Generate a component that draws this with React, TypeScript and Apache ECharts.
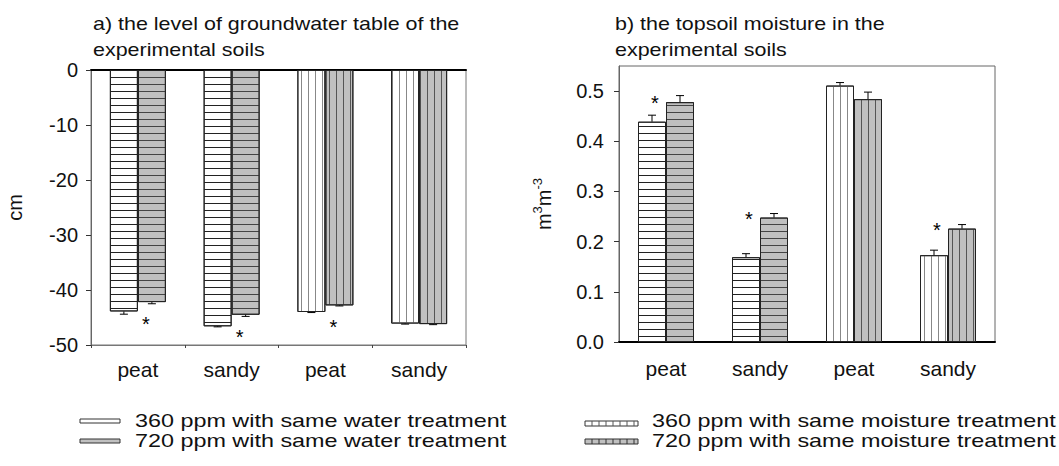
import React, { useEffect, useRef } from "react";
import * as echarts from "echarts";

// ---------- data ----------
const categories = ["peat", "sandy", "peat", "sandy"];
const patternKinds = ["h", "h", "v", "v"];

const groundwater360 = [-43.9, -46.6, -44.0, -46.1];
const groundwater720 = [-42.2, -44.5, -42.8, -46.2];
const groundwater360Err = [0.5, 0.1, 0.1, 0.1];
const groundwater720Err = [0.3, 0.3, 0.1, 0.1];
const groundwaterStars = [true, true, true, false];
const groundwaterTicks = [0, -10, -20, -30, -40, -50];

const moisture360 = [0.439, 0.169, 0.511, 0.173];
const moisture720 = [0.478, 0.248, 0.484, 0.226];
const moisture360Err = [0.013, 0.007, 0.006, 0.01];
const moisture720Err = [0.013, 0.008, 0.014, 0.008];
const moistureStars = [true, true, false, true];
const moistureTicks = [0, 0.1, 0.2, 0.3, 0.4, 0.5];

const titleA = ["a) the level of groundwater table of the", "experimental soils"];
const titleB = ["b) the topsoil moisture in the", "experimental soils"];
const legendA = ["360 ppm with same water treatment", "720 ppm with same water treatment"];
const legendB = ["360 ppm with same moisture treatment", "720 ppm with same moisture treatment"];

// ---------- styles ----------
const FONT = "'Liberation Sans', Arial, Helvetica, sans-serif";
const GREY = "#c0c0c0";
const TEXT = "#111";

function decalFor(kind: string, color: string) {
  return kind === "h"
    ? { symbol: "rect", symbolSize: 1, color, dashArrayX: [7, 0], dashArrayY: [1, 6], rotation: 0 }
    : { symbol: "rect", symbolSize: 1, color, dashArrayX: [1, 6], dashArrayY: [7, 0], rotation: 0 };
}

function barSeries(name: string, values: number[], xi: number, yi: number, fill: string, hColor: string, vColor: string) {
  return {
    type: "bar",
    name,
    xAxisIndex: xi,
    yAxisIndex: yi,
    barWidth: 28,
    barGap: "0%",
    silent: true,
    data: values.map((v, i) => ({
      value: v,
      itemStyle: {
        color: fill,
        borderColor: "#222",
        borderWidth: 1,
        decal: decalFor(patternKinds[i], patternKinds[i] === "h" ? hColor : vColor),
      },
    })),
  };
}

function errorSeries(xi: number, yi: number, values: number[], errs: number[], offset: number, dir: number) {
  return {
    type: "custom",
    xAxisIndex: xi,
    yAxisIndex: yi,
    z: 5,
    silent: true,
    data: values.map((v, i) => [i, v, errs[i]]),
    renderItem: (_p: any, api: any) => {
      const i = api.value(0);
      const v = api.value(1);
      const e = api.value(2);
      const p0 = api.coord([i, v]);
      const p1 = api.coord([i, v + dir * e]);
      const x = p0[0] + offset;
      return {
        type: "group",
        children: [
          { type: "line", shape: { x1: x, y1: p0[1], x2: x, y2: p1[1] }, style: { stroke: "#000", lineWidth: 1 } },
          { type: "line", shape: { x1: x - 4, y1: p1[1], x2: x + 4, y2: p1[1] }, style: { stroke: "#000", lineWidth: 1 } },
        ],
      };
    },
  };
}

function starSeries(xi: number, yi: number, values: number[], flags: boolean[], dx: number, dy: number) {
  return {
    type: "custom",
    xAxisIndex: xi,
    yAxisIndex: yi,
    z: 6,
    silent: true,
    data: values.map((v, i) => [i, v]).filter((_d, i) => flags[i]),
    renderItem: (_p: any, api: any) => {
      const p = api.coord([api.value(0), api.value(1)]);
      return {
        type: "text",
        x: p[0] + dx,
        y: p[1] + dy,
        style: { text: "*", fontSize: 20, fontFamily: FONT, fill: "#000", align: "center", verticalAlign: "middle" },
      };
    },
  };
}

function legendSwatchLines(x: number, y: number, w: number, h: number, color: string) {
  const out: any[] = [];
  for (let lx = x + 7; lx < x + w - 1; lx += 7) {
    out.push({ type: "line", shape: { x1: lx, y1: y, x2: lx, y2: y + h }, style: { stroke: color, lineWidth: 1 } });
  }
  return out;
}

function buildOption() {
  const titleText = (t: string, x: number, y: number) => ({
    type: "text",
    x,
    y,
    scaleX: 1.13,
    style: { text: t, fontSize: 19, fontFamily: FONT, fill: TEXT, verticalAlign: "middle" },
  });
  const legendText = (t: string, x: number, y: number) => ({
    type: "text",
    x,
    y,
    scaleX: 1.23,
    style: { text: t, fontSize: 19, fontFamily: FONT, fill: TEXT, verticalAlign: "middle" },
  });

  const graphic: any[] = [
    ...titleA.map((t, k) => titleText(t, 93, 23 + 26 * k)),
    ...titleB.map((t, k) => titleText(t, 615, 23 + 26 * k)),
    { type: "rect", shape: { x: 80, y: 419, width: 40, height: 4 }, style: { fill: "#fff", stroke: "#333", lineWidth: 1 } },
    { type: "rect", shape: { x: 80, y: 439, width: 40, height: 4 }, style: { fill: GREY, stroke: "#333", lineWidth: 1 } },
    legendText(legendA[0], 135, 421),
    legendText(legendA[1], 135, 441),
    { type: "rect", shape: { x: 585, y: 421, width: 53, height: 5 }, style: { fill: "#fff", stroke: "#333", lineWidth: 1 } },
    ...legendSwatchLines(585, 421, 53, 5, "#555"),
    { type: "rect", shape: { x: 585, y: 439, width: 53, height: 5 }, style: { fill: GREY, stroke: "#333", lineWidth: 1 } },
    ...legendSwatchLines(585, 439, 53, 5, "#333"),
    legendText(legendB[0], 652, 421),
    legendText(legendB[1], 652, 441),
  ];

  const catLabel = { fontSize: 21, color: TEXT, fontFamily: FONT };

  return {
    animation: false,
    textStyle: { fontFamily: FONT },
    grid: [
      { left: 91, top: 70, width: 375, height: 275, show: true, borderColor: "#777", borderWidth: 1, backgroundColor: "transparent" },
      { left: 619, top: 66, width: 376, height: 276, show: true, borderColor: "#666", borderWidth: 1, backgroundColor: "transparent" },
    ],
    xAxis: [
      {
        type: "category",
        gridIndex: 0,
        data: categories,
        position: "bottom",
        axisLine: { onZero: false, lineStyle: { color: "#777", width: 1 } },
        axisTick: { show: true, length: 3, lineStyle: { color: "#444" } },
        axisLabel: { ...catLabel, margin: 14 },
        splitLine: { show: false },
      },
      {
        type: "category",
        gridIndex: 0,
        data: categories,
        position: "top",
        axisLine: { onZero: false, lineStyle: { color: "#000", width: 2 } },
        axisTick: { show: false },
        axisLabel: { show: false },
        splitLine: { show: false },
      },
      {
        type: "category",
        gridIndex: 1,
        data: categories,
        position: "bottom",
        axisLine: { onZero: false, lineStyle: { color: "#000", width: 2 } },
        axisTick: { show: false },
        axisLabel: { ...catLabel, margin: 16 },
        splitLine: { show: false },
      },
    ],
    yAxis: [
      {
        type: "value",
        gridIndex: 0,
        min: -50,
        max: 0,
        interval: 10,
        name: "cm",
        nameLocation: "middle",
        nameRotate: 90,
        nameGap: 66,
        nameTextStyle: { fontSize: 20, color: TEXT, fontFamily: FONT },
        axisLine: { show: true, onZero: false, lineStyle: { color: "#666" } },
        axisTick: { show: true, length: 5, lineStyle: { color: "#333" }, customValues: groundwaterTicks },
        axisLabel: { fontSize: 20, color: TEXT, margin: 13, customValues: groundwaterTicks },
        splitLine: { show: false },
      },
      {
        type: "value",
        gridIndex: 1,
        min: 0,
        max: 0.55,
        interval: 0.1,
        name: "{n|m}{s|3}{n|m}{s|-3}",
        nameLocation: "middle",
        nameRotate: 90,
        nameGap: 62,
        nameTextStyle: {
          color: TEXT,
          fontFamily: FONT,
          rich: {
            n: { fontSize: 20, lineHeight: 26, color: TEXT, fontFamily: FONT },
            s: { fontSize: 13, lineHeight: 26, verticalAlign: "top", color: TEXT, fontFamily: FONT },
          },
        },
        axisLine: { show: true, onZero: false, lineStyle: { color: "#666" } },
        axisTick: { show: true, length: 5, lineStyle: { color: "#333" }, customValues: moistureTicks },
        axisLabel: {
          fontSize: 20,
          color: TEXT,
          margin: 15,
          customValues: moistureTicks,
          formatter: (v: number) => v.toFixed(1),
        },
        splitLine: { show: false },
      },
    ],
    series: [
      barSeries("360 ppm with same water treatment", groundwater360, 0, 0, "#ffffff", "#222", "#888"),
      barSeries("720 ppm with same water treatment", groundwater720, 0, 0, GREY, "#444", "#555"),
      barSeries("360 ppm with same moisture treatment", moisture360, 2, 1, "#ffffff", "#222", "#888"),
      barSeries("720 ppm with same moisture treatment", moisture720, 2, 1, GREY, "#444", "#555"),
      errorSeries(0, 0, groundwater360, groundwater360Err, -14, -1),
      errorSeries(0, 0, groundwater720, groundwater720Err, 14, -1),
      errorSeries(2, 1, moisture360, moisture360Err, -14, 1),
      errorSeries(2, 1, moisture720, moisture720Err, 14, 1),
      starSeries(0, 0, groundwater720, groundwaterStars, 8, 22),
      starSeries(2, 1, moisture720, moistureStars, -11, 1),
    ],
    graphic,
  };
}

export default function App() {
  const ref = useRef<HTMLDivElement>(null);
  useEffect(() => {
    if (!ref.current) return;
    const chart = echarts.init(ref.current, undefined, { renderer: "svg" });
    chart.setOption(buildOption() as any);
    return () => chart.dispose();
  }, []);
  return (
    <div
      ref={ref}
      style={{ position: "absolute", left: 0, top: 0, width: 1059, height: 466, background: "#fff" }}
    />
  );
}
